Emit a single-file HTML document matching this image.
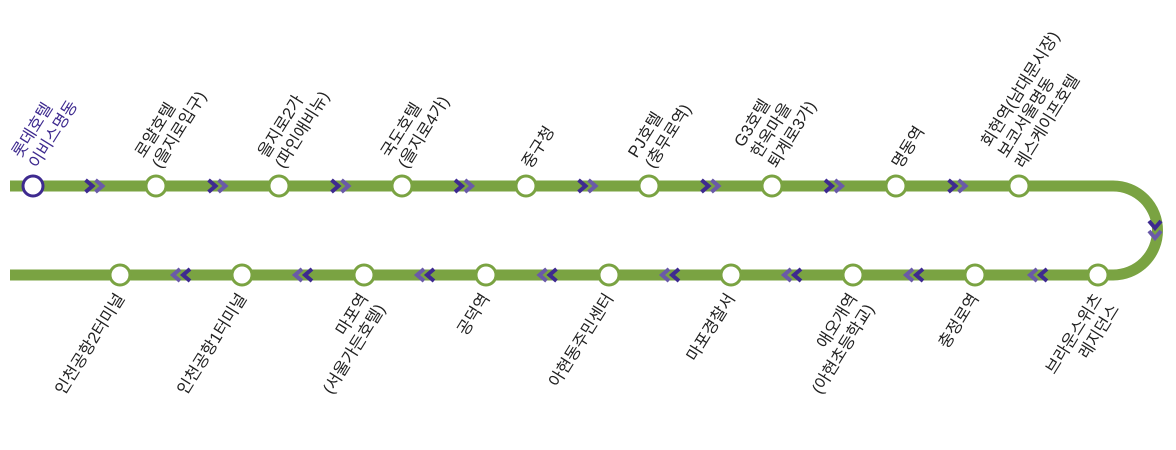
<!DOCTYPE html>
<html><head><meta charset="utf-8"><style>
body{margin:0;width:1176px;height:450px;background:#fff;position:relative;overflow:hidden;font-family:"Liberation Sans","Noto Sans CJK KR",sans-serif;}
.a{position:absolute;width:0;height:0;}
.t{position:absolute;left:0;bottom:0;transform-origin:0 100%;transform:rotate(-58deg);white-space:nowrap;font-size:16.5px;line-height:20px;color:#222;text-align:left;}
.b{position:absolute;right:0;top:0;transform-origin:100% 0;transform:rotate(-58deg);white-space:nowrap;font-size:16.5px;line-height:20px;color:#222;text-align:right;}
svg{position:absolute;left:0;top:0;}
</style></head><body>
<svg width="1176" height="450">
<path d="M10,186 H1113 A44.5,44.5 0 0 1 1113,275 H10" fill="none" stroke="#7aa342" stroke-width="11"/>
<g fill="none" stroke-width="4">
<g transform="translate(94.5,186)"><polyline points="-9,-6 -2,0 -9,6" stroke="#3e2a8f"/><polyline points="1,-6 8,0 1,6" stroke="#6a5aa8"/></g>
<g transform="translate(217.5,186)"><polyline points="-9,-6 -2,0 -9,6" stroke="#3e2a8f"/><polyline points="1,-6 8,0 1,6" stroke="#6a5aa8"/></g>
<g transform="translate(340.5,186)"><polyline points="-9,-6 -2,0 -9,6" stroke="#3e2a8f"/><polyline points="1,-6 8,0 1,6" stroke="#6a5aa8"/></g>
<g transform="translate(464,186)"><polyline points="-9,-6 -2,0 -9,6" stroke="#3e2a8f"/><polyline points="1,-6 8,0 1,6" stroke="#6a5aa8"/></g>
<g transform="translate(587.5,186)"><polyline points="-9,-6 -2,0 -9,6" stroke="#3e2a8f"/><polyline points="1,-6 8,0 1,6" stroke="#6a5aa8"/></g>
<g transform="translate(710.5,186)"><polyline points="-9,-6 -2,0 -9,6" stroke="#3e2a8f"/><polyline points="1,-6 8,0 1,6" stroke="#6a5aa8"/></g>
<g transform="translate(834,186)"><polyline points="-9,-6 -2,0 -9,6" stroke="#3e2a8f"/><polyline points="1,-6 8,0 1,6" stroke="#6a5aa8"/></g>
<g transform="translate(957.5,186)"><polyline points="-9,-6 -2,0 -9,6" stroke="#3e2a8f"/><polyline points="1,-6 8,0 1,6" stroke="#6a5aa8"/></g>
<g transform="translate(1155,230)"><polyline points="-6,-9 0,-2 6,-9" stroke="#3e2a8f"/><polyline points="-6,1 0,8 6,1" stroke="#6a5aa8"/></g>
<g transform="translate(1038,275)"><polyline points="9,-6 2,0 9,6" stroke="#3e2a8f"/><polyline points="-1,-6 -8,0 -1,6" stroke="#6a5aa8"/></g>
<g transform="translate(914,275)"><polyline points="9,-6 2,0 9,6" stroke="#3e2a8f"/><polyline points="-1,-6 -8,0 -1,6" stroke="#6a5aa8"/></g>
<g transform="translate(792,275)"><polyline points="9,-6 2,0 9,6" stroke="#3e2a8f"/><polyline points="-1,-6 -8,0 -1,6" stroke="#6a5aa8"/></g>
<g transform="translate(670,275)"><polyline points="9,-6 2,0 9,6" stroke="#3e2a8f"/><polyline points="-1,-6 -8,0 -1,6" stroke="#6a5aa8"/></g>
<g transform="translate(547.5,275)"><polyline points="9,-6 2,0 9,6" stroke="#3e2a8f"/><polyline points="-1,-6 -8,0 -1,6" stroke="#6a5aa8"/></g>
<g transform="translate(425,275)"><polyline points="9,-6 2,0 9,6" stroke="#3e2a8f"/><polyline points="-1,-6 -8,0 -1,6" stroke="#6a5aa8"/></g>
<g transform="translate(303,275)"><polyline points="9,-6 2,0 9,6" stroke="#3e2a8f"/><polyline points="-1,-6 -8,0 -1,6" stroke="#6a5aa8"/></g>
<g transform="translate(181,275)"><polyline points="9,-6 2,0 9,6" stroke="#3e2a8f"/><polyline points="-1,-6 -8,0 -1,6" stroke="#6a5aa8"/></g>
</g>
<g fill="#fff" stroke="#7aa342" stroke-width="3">
<circle cx="33" cy="186" r="10" stroke="#3e2a8f"/>
<circle cx="156" cy="186" r="10"/><circle cx="279" cy="186" r="10"/><circle cx="402" cy="186" r="10"/>
<circle cx="526" cy="186" r="10"/><circle cx="649" cy="186" r="10"/><circle cx="772" cy="186" r="10"/>
<circle cx="896" cy="186" r="10"/><circle cx="1019" cy="186" r="10"/>
<circle cx="1098" cy="275" r="10"/><circle cx="975" cy="275" r="10"/><circle cx="853" cy="275" r="10"/>
<circle cx="731" cy="275" r="10"/><circle cx="609" cy="275" r="10"/><circle cx="486" cy="275" r="10"/>
<circle cx="364" cy="275" r="10"/><circle cx="242" cy="275" r="10"/><circle cx="120" cy="275" r="10"/>
</g>
</svg>
<div class="a" style="left:42px;top:172px"><div class="t" style="color:#3e2a8f">롯데호텔<br>이비스명동</div></div>
<div class="a" style="left:165px;top:172px"><div class="t">로얄호텔<br>(을지로입구)</div></div>
<div class="a" style="left:288px;top:172px"><div class="t">을지로2가<br>(파인애비뉴)</div></div>
<div class="a" style="left:411px;top:172px"><div class="t">국도호텔<br>(을지로4가)</div></div>
<div class="a" style="left:535px;top:172px"><div class="t">중구청</div></div>
<div class="a" style="left:658px;top:172px"><div class="t">PJ호텔<br>(충무로역)</div></div>
<div class="a" style="left:781px;top:172px"><div class="t">G3호텔<br>한옥마을<br>퇴계로3가)</div></div>
<div class="a" style="left:905px;top:172px"><div class="t">명동역</div></div>
<div class="a" style="left:1028px;top:172px"><div class="t">회현역(남대문시장)<br>보코서울명동<br>레스케이프호텔</div></div>
<div class="a" style="left:1090px;top:290px"><div class="b">브라운스위츠<br>레지던스</div></div>
<div class="a" style="left:967px;top:290px"><div class="b">충정로역</div></div>
<div class="a" style="left:845px;top:290px"><div class="b">애오개역<br>(아현초등학교)</div></div>
<div class="a" style="left:723px;top:290px"><div class="b">마포경찰서</div></div>
<div class="a" style="left:601px;top:290px"><div class="b">아현동주민센터</div></div>
<div class="a" style="left:478px;top:290px"><div class="b">공덕역</div></div>
<div class="a" style="left:356px;top:290px"><div class="b">마포역<br>(서울가든호텔)</div></div>
<div class="a" style="left:234px;top:290px"><div class="b">인천공항1터미널</div></div>
<div class="a" style="left:112px;top:290px"><div class="b">인천공항2터미널</div></div>
</body></html>
